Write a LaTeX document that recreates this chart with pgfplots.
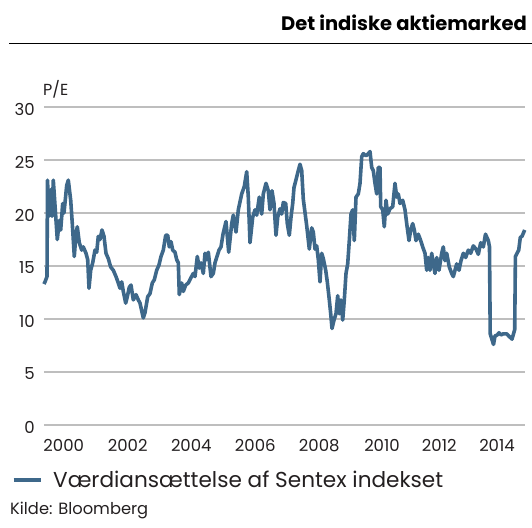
\documentclass[border=0pt]{standalone}
\usepackage{fontspec}
\setmainfont{Poppins}
\usepackage{pgfplots}
\pgfplotsset{compat=1.18}
\definecolor{linec}{RGB}{62,104,138}
\definecolor{gridc}{RGB}{190,190,190}
\definecolor{txt}{RGB}{35,31,32}
\pgfplotstableread{
x y
44 13.3
45 13.5
47 14.0
47.5 23.1
49 19.7
50.7 22.2
52 19.7
53.3 23.1
55.3 20.3
57.3 17.5
59.3 19.3
60.7 18.4
62.7 20.9
64 20.0
66.7 22.6
68.3 23.1
70.7 21.2
72.3 19.0
74.3 15.9
76 18.1
77.3 18.7
79.3 17.2
81.7 16.5
83.3 16.8
86 16.2
87.7 15.6
89 12.9
90.7 14.6
92.7 15.3
95 16.5
96.7 16.3
98.3 17.8
100 17.5
102 18.4
104 17.8
106 16.2
108.3 15.7
110.7 14.9
113.3 14.6
116 14.0
118.3 13.4
120 12.9
121.7 13.5
123.3 12.6
125.7 11.5
127.3 12.1
129.3 13.0
131 13.2
133.3 11.8
136 12.3
138.3 11.8
140 11.5
143.3 10.1
145 10.6
147.7 12.1
150 12.4
152.3 13.4
154.3 13.7
156.7 14.6
159 15.1
161 15.9
163.3 16.5
165.7 17.9
167.7 17.9
169.3 16.8
171 17.3
172.7 16.5
175 16.3
176.7 15.6
178.3 15.3
179.3 12.3
181.7 13.4
183.3 12.6
185.7 13.2
188.3 13.4
191 13.9
193.3 14.3
195 14.0
197.3 15.9
199.3 14.8
201 15.3
203.3 14.3
205 16.2
206.7 15.6
208.3 16.3
211 14.0
213.3 14.3
215 15.3
217 15.9
219 16.5
221 16.8
223 18.0
226 19.2
228.7 16.3
231.7 19.0
233.3 19.8
236 18.2
238.3 20.3
241.7 21.8
244.3 22.5
246.7 23.9
248.3 21.5
250 17.2
252.7 19.6
255 20.3
256.7 19.8
259.3 21.5
261.7 19.9
263.3 21.8
266 22.8
268.3 22.1
270 20.3
272 22.1
274 20.9
276 17.9
277.7 19.6
280 20.4
281.7 19.9
283.3 21.0
285.7 20.9
287.3 19.0
289.3 17.9
291 19.6
292.7 20.9
294 22.4
296.7 23.4
298.3 24.0
300 24.6
301.7 24.0
303.3 21.3
306.7 18.8
309.3 16.6
311.7 18.6
313.3 18.2
315 16.6
316.7 16.9
318.3 15.6
320 13.5
321.7 16.2
323.3 15.7
325.7 14.6
327.3 13.5
329.3 11.8
330.7 10.5
332 9.1
334 9.9
336 10.5
337.7 12.2
339.3 10.5
341 11.8
342.7 9.9
344.3 11.8
346 14.3
347.7 15.2
349.3 17.4
351 19.9
352.7 20.3
354.3 17.4
356 21.5
358.3 21.8
360 22.8
361.7 25.3
363.3 25.6
366 25.4
368.3 25.6
370 25.8
371.7 24.3
373.3 24.0
375 22.8
376.7 21.8
378.3 24.3
380 24.3
380.7 20.6
382.7 20.3
384.3 18.7
386 21.2
387.7 19.9
390 20.4
392.7 20.6
395 22.8
396.7 21.5
398.3 21.8
400 20.9
402.7 21.2
405 20.3
406.7 19.0
409 17.4
410.7 18.4
412.7 19.0
414.3 18.4
416 17.4
418.3 18.0
420.7 17.4
422.7 16.8
425 16.2
426.7 14.6
428.3 15.8
430 14.6
431.7 16.2
433.3 15.2
435 14.3
436.7 15.8
439 14.6
441.7 16.2
443.3 16.8
445 15.5
446.7 16.2
449.3 14.9
451.7 14.3
453.3 14.0
455 14.6
456.7 15.2
459 14.6
461 15.5
463.3 16.2
465.7 15.8
468.3 16.5
470.7 16.2
473.3 16.9
476 16.6
478.3 16.1
480.7 17.2
483.3 16.8
485.5 18.0
488.3 17.4
489.5 16.8
490.2 8.6
493.5 7.6
495 8.4
497.3 8.5
499 8.7
501 8.5
503.3 8.6
506.7 8.6
508.7 8.4
512 8.1
514.7 9.0
515.4 15.9
518.7 16.5
520.3 17.7
522 17.8
524.7 18.4
}\pedata
\begin{document}
\begin{tikzpicture}[x=1pt,y=1pt]
\path[use as bounding box] (0,0) rectangle (532,-527);
\node[anchor=base east, inner sep=0pt, text=black, font=\fontsize{19.5}{22}\selectfont\bfseries] at (527,-31) {Det indiske aktiemarked};
\draw[black, line width=0.9pt] (9,-43.3) -- (532,-43.3);
\node[anchor=base west, inner sep=0pt, text=txt, font=\fontsize{16}{18}\selectfont] at (43,-95) {P/E};
\node[anchor=base west, inner sep=0pt, text=txt, font=\fontsize{16.3}{18}\selectfont] at (10,-514) {Kilde: Bloomberg};
\begin{axis}[
  at={(44pt,-425pt)}, anchor=south west,
  scale only axis, width=481pt, height=318pt,
  xmin=44, xmax=525, ymin=0, ymax=30,
  axis line style={draw=none},
  tick style={draw=none},
  major tick length=0pt,
  ytick={0,5,...,30},
  xtick={63.7,127.7,191.3,255.3,319.3,382,439.3,497},
  xticklabels={2000,2002,2004,2006,2008,2010,2012,2014},
  ymajorgrids,
  major grid style={gridc, line width=1.3pt},
  /pgf/number format/assume math mode=true,
  ticklabel style={text=txt, font=\fontsize{16.5}{19}\selectfont, inner sep=0pt},
  yticklabel style={anchor=east, xshift=-9pt, yshift=-2pt},
  xticklabel style={anchor=north, yshift=-14pt},
  clip=false,
  legend style={draw=none, fill=none, inner sep=0pt, outer sep=0pt,
    at={(axis description cs:0,0)}, anchor=west, xshift=-32pt, yshift=-55pt,
    font=\fontsize{21.6}{24}\selectfont, text=txt,
    nodes={inner sep=0pt},
    /tikz/every odd column/.append style={column sep=11pt}},
  legend image code/.code={\draw[linec, line width=3.2pt] (0pt,0pt) -- (27pt,0pt);},
]
\addplot[linec, line width=3.6pt, line join=round] table[x=x,y=y] {\pedata};
\addlegendentry{Værdiansættelse af Sentex indekset}
\end{axis}
\end{tikzpicture}
\end{document}
